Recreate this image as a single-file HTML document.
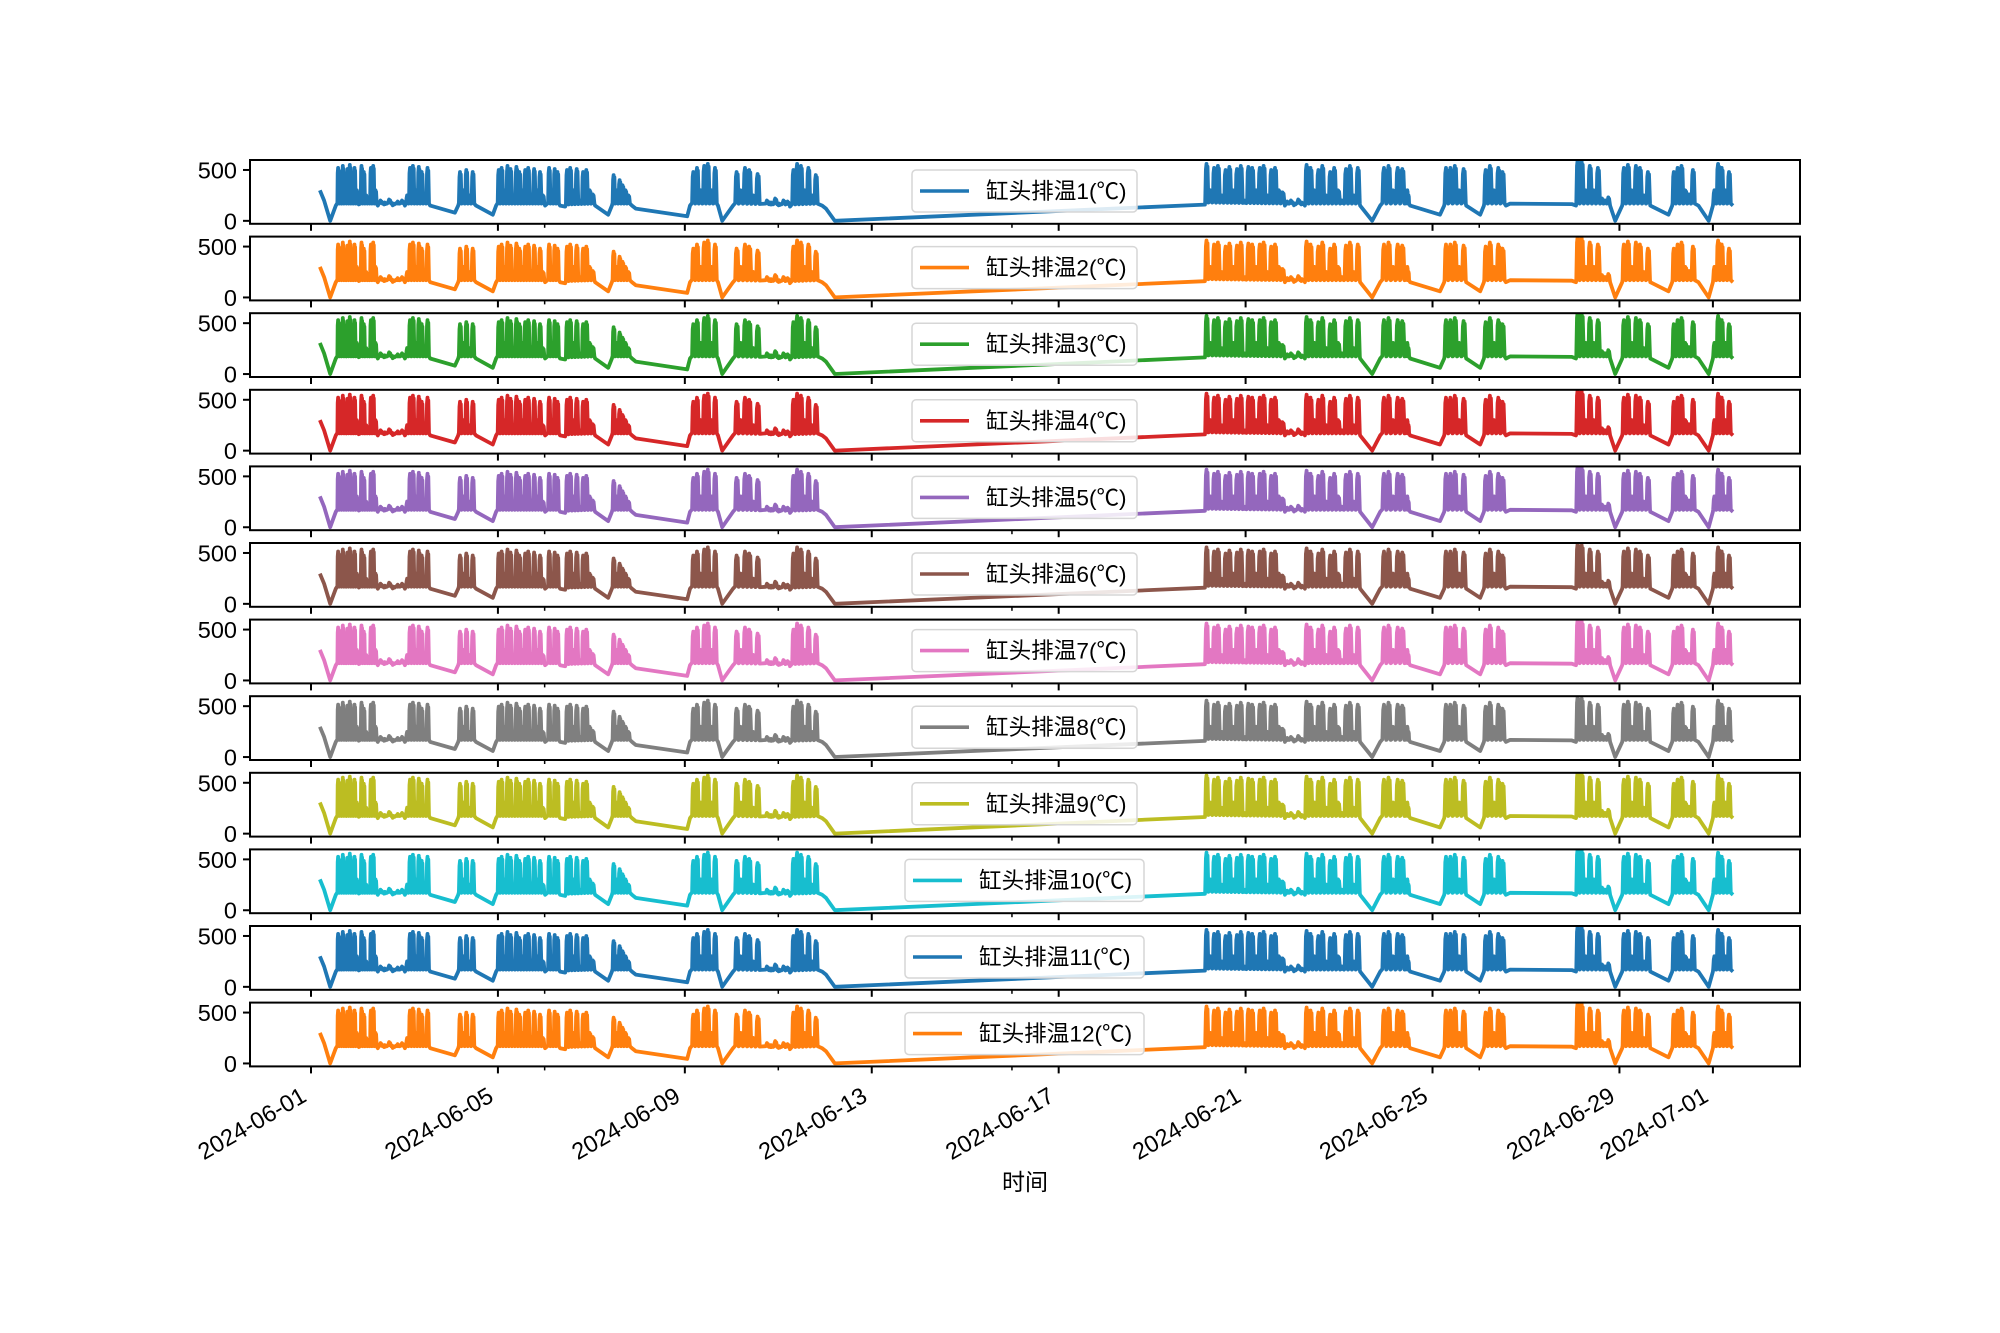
<!DOCTYPE html>
<html><head><meta charset="utf-8"><style>
html,body{margin:0;padding:0;background:#fff;}
svg{display:block;}
text{font-family:"Liberation Sans","Noto Sans CJK SC",sans-serif;}
</style></head><body>
<svg id="chart" width="2000" height="1333" viewBox="0 0 2000 1333" xmlns="http://www.w3.org/2000/svg"></svg>
<script>
// ---- data ----
const seriesNames = ["缸头排温1(℃)","缸头排温2(℃)","缸头排温3(℃)","缸头排温4(℃)","缸头排温5(℃)","缸头排温6(℃)","缸头排温7(℃)","缸头排温8(℃)","缸头排温9(℃)","缸头排温10(℃)","缸头排温11(℃)","缸头排温12(℃)"];
const seriesColors = ["#1f77b4","#ff7f0e","#2ca02c","#d62728","#9467bd","#8c564b","#e377c2","#7f7f7f","#bcbd22","#17becf","#1f77b4","#ff7f0e"];
const seriesScale = [1,1,1.02,1,1.01,0.99,1,0.99,1.02,1.01,1,1];
// baseline trend (days since 2024-06-01, value)
const baseDays = [0.19,0.28,0.41,0.53,1.43,2.01,2.55,3.08,3.15,3.53,3.89,3.96,5.01,5.33,5.44,6.08,6.36,6.44,6.87,6.95,8.05,8.11,8.71,8.80,9.03,10.25,10.94,11.02,11.21,19.13,20.84,21.27,22.45,22.71,22.88,23.52,24.16,24.25,24.72,25.02,25.10,25.57,25.66,26.98,27.07,27.80,27.91,28.06,28.66,29.05,29.13,29.69,29.91,30.00,30.43];
const baseVals = [300,200,0,150,150,150,150,80,150,150,60,150,150,150,140,150,60,150,150,120,45,150,150,0,150,140,150,120,0,160,150,150,150,0,150,150,60,150,150,60,150,150,170,165,150,150,0,150,150,60,150,150,0,150,150];
// spike blocks: [startDay, endDay, peaks...]
const spikeBlocks = [
 [0.56,1.41,520,300,540,200,510,550,260,520,300,180,540,480,250,200,520,540,300],
 [1.45,2.00,200,180,210,170,190,200],
 [2.03,2.53,250,520,540,300,530,480,200,520],
 [3.16,3.50,480,300,500,250,480],
 [3.99,5.00,500,520,300,540,510,250,530,480,300,500,520,260,510,300,480,250],
 [5.07,5.31,520,300,510,480],
 [5.45,6.07,500,520,300,510,200,480,500,300,260],
 [6.45,6.83,450,300,400,350,300,250],
 [8.15,8.69,480,520,300,540,560,300,520],
 [9.07,9.61,480,300,520,500,250,460],
 [9.72,10.25,200,180,220,170,200,190],
 [10.29,10.85,500,560,540,300,520,250,450],
 [19.13,20.84,560,300,520,540,250,500,530,300,510,540,200,530,520,300,520,540,250,500,520,300,280],
 [20.86,21.25,190,200,170,210,180],
 [21.27,22.45,550,520,300,500,540,250,480,520,300,200,510,540,250,520],
 [22.92,23.41,520,540,300,520,510],
 [23.45,23.50,300,250],
 [24.25,24.72,520,520,540,300,510],
 [25.10,25.55,500,540,300,520,480],
 [27.07,27.59,600,580,300,540,300,520],
 [27.60,27.80,220,200,230],
 [28.06,28.66,520,550,300,540,520,250,480],
 [29.13,29.62,480,520,540,300,260,500],
 [30.00,30.39,300,560,520,300,480]
];
const majorTickDays = [0,4,8,12,16,20,24,28,30];
const majorTickLabels = ["2024-06-01","2024-06-05","2024-06-09","2024-06-13","2024-06-17","2024-06-21","2024-06-25","2024-06-29","2024-07-01"];
const minorTickDays = [5,10,15,25];
const yTicks = [0,500];

// ---- layout ----
const L=250,R=1800,TOP=160,PH=63.8,STEP=76.6;
const X0=311, PXD=46.73;
const YMIN=-29, YMAX=598;
const NS="http://www.w3.org/2000/svg";
const svg=document.getElementById('chart');
function xs(d){return X0+d*PXD;}
function ys(v,i){const t=TOP+i*STEP;return t+(YMAX-v)/(YMAX-YMIN)*PH;}
function mk(tag,attrs,parent){const e=document.createElementNS(NS,tag);for(const k in attrs)e.setAttribute(k,attrs[k]);(parent||svg).appendChild(e);return e;}
function baseAt(d){
  for(let k=0;k<baseDays.length-1;k++){if(d>=baseDays[k]&&d<=baseDays[k+1]){const f=(d-baseDays[k])/(baseDays[k+1]-baseDays[k]);return baseVals[k]+f*(baseVals[k+1]-baseVals[k]);}}
  return baseVals[baseVals.length-1];
}
function buildPoints(){
  const pts=baseDays.map((d,k)=>[d,baseVals[k]]);
  spikeBlocks.forEach(b=>{
    const s=b[0],e=b[1],pk=b.slice(2),n=pk.length;
    for(let j=0;j<n;j++){
      const d=s+(e-s)*(j+0.5)/n, w=(e-s)/n*0.42;
      const mid=(pk[j]+baseAt(d))*0.5;
      pts.push([d-w,baseAt(d-w)+25]);pts.push([d-w*0.6,pk[j]*0.9]);pts.push([d-w*0.2,pk[j]]);
      pts.push([d+w*0.1,mid]);pts.push([d+w*0.4,pk[j]*0.95]);pts.push([d+w,baseAt(d+w)+20]);
    }
  });
  pts.sort((a,b)=>a[0]-b[0]);
  return pts;
}
const pts=buildPoints();

for(let i=0;i<12;i++){
  const g=mk('g',{});
  
  
  const top=TOP+i*STEP;
  const clip=mk('clipPath',{id:'c'+i},g);
  mk('rect',{x:L,y:top,width:R-L,height:PH},clip);
  let dstr='';
  pts.forEach((p,k)=>{dstr+=(k?'L':'M')+xs(p[0]).toFixed(1)+' '+ys(p[1]*seriesScale[i],i).toFixed(1);});
  const line=mk('path',{d:dstr,fill:'none',stroke:seriesColors[i],'stroke-width':3.8,'stroke-linejoin':'round','clip-path':'url(#c'+i+')'},g);
  
  
  const fr=mk('rect',{x:L,y:top,width:R-L,height:PH,fill:'none',stroke:'#000','stroke-width':2},g);
  
  
  yTicks.forEach(v=>{
    const y=ys(v,i);
    mk('line',{x1:L-7,x2:L,y1:y,y2:y,stroke:'#000','stroke-width':2},g);
    const t=mk('text',{x:L-13,y:y+8.5,'text-anchor':'end','font-size':23.5,fill:'#000'},g);
    t.textContent=String(v);
    
    
  });
  const bot=top+PH;
  majorTickDays.forEach(d=>mk('line',{x1:xs(d),x2:xs(d),y1:bot,y2:bot+7,stroke:'#000','stroke-width':2},g));
  minorTickDays.forEach(d=>mk('line',{x1:xs(d),x2:xs(d),y1:bot,y2:bot+4,stroke:'#000','stroke-width':1.5},g));
  const wide=seriesNames[i].length>8;
  const lx=wide?905:912, lw=wide?239:225;
  const lg=mk('g',{},g);
  
  
  mk('rect',{x:lx,y:top+10,width:lw,height:42,rx:4,fill:'#fff','fill-opacity':0.85,stroke:'#d6d6d6','stroke-width':1.5},lg);
  mk('line',{x1:lx+8,x2:lx+57,y1:top+31,y2:top+31,stroke:seriesColors[i],'stroke-width':3.6},lg);
  const lt=mk('text',{x:lx+74,y:top+39,'font-size':22.6,fill:'#000'},lg);
  lt.textContent=seriesNames[i];
  
  
}
const lastBot=TOP+11*STEP+PH;
majorTickDays.forEach((d,k)=>{
  const x=xs(d)-3,y=lastBot+34;
  const t=mk('text',{x:x,y:y,'text-anchor':'end','font-size':23.5,fill:'#000',transform:'rotate(-30 '+x+' '+y+')'});
  t.textContent=majorTickLabels[k];
  
  
});
const xl=mk('text',{x:1025,y:1190,'text-anchor':'middle','font-size':23,fill:'#000'});
xl.textContent='时间';


</script>
</body></html>
